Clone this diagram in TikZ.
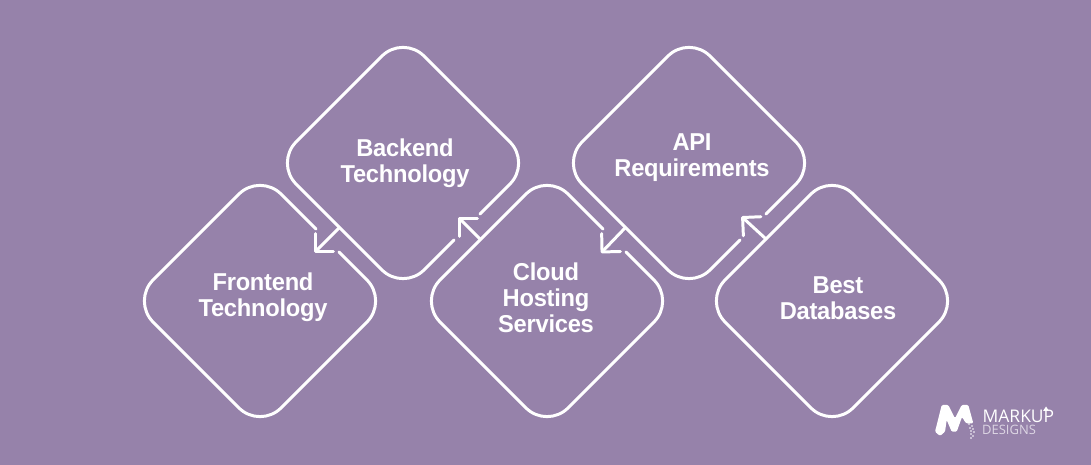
\documentclass[tikz,border=0pt]{standalone}
\usepackage{fontspec}
\setmainfont{Liberation Sans}
\newfontfamily\labelfont[FakeStretch=0.97,LetterSpace=-1]{Liberation Sans Bold}
\newfontfamily\logofont{Open Sans}
\usetikzlibrary{arrows.meta}
\definecolor{bgpurple}{HTML}{9682AA}
\definecolor{logograyish}{HTML}{DDD6E4}
\tikzset{
  outline/.style={draw=white,line width=3pt,rounded corners=30pt,line cap=round},
  flow/.style={draw=white,line width=3pt,line cap=round,-{Straight Barb[length=13pt,width=26pt,round]}},
  lbl/.style={text=white,align=center,font=\labelfont\fontsize{24.5}{26}\selectfont,inner sep=0pt},
}
\begin{document}
\begin{tikzpicture}[x=1bp,y=-1bp]
\useasboundingbox (0,0) rectangle (1091,465);
\fill[bgpurple] (0,0) rectangle (1091,465);

% outlines
\draw[outline] (339,252) -- (388,301) -- (260,429) -- (132,301) -- (260,173) -- (316,229);
\draw[outline] (454,240) -- (403,291) -- (275,163) -- (403,35) -- (531,163) -- (480,214);
\draw[outline] (626,252) -- (675,301) -- (547,429) -- (419,301) -- (547,173) -- (603,229);
\draw[outline] (740,240) -- (689,291) -- (561,163) -- (689,35) -- (817,163) -- (766,214);
\draw[outline] (832,173) -- (960,301) -- (832,429) -- (704,301) -- cycle;

% labels
\node[lbl] (backend) at (405,163) {Backend\\Technology};
\node[lbl] (frontend) at (263,297) {Frontend\\Technology};
\node[lbl] (cloud) at (546,298) {Cloud\\Hosting\\Services};
\node[lbl] (api) at (692,158) {API\\Requirements};
\node[lbl] (best) at (838,298) {Best\\Databases};

% connectors
\coordinate (a1) at (339,228); \coordinate (a1t) at (314,253);
\coordinate (a2) at (480,239); \coordinate (a2t) at (458,217);
\coordinate (a3) at (625,228); \coordinate (a3t) at (601,253);
\coordinate (a4) at (766,239); \coordinate (a4t) at (741.5,216.5);
\draw[flow] (a1) -- (a1t);
\draw[flow] (a2) -- (a2t);
\draw[flow] (a3) -- (a3t);
\draw[flow] (a4) -- (a4t);

% logo
\fill[white,rounded corners=1.2pt] (935,431.7) -- (941.7,405) -- (948.3,405) -- (955,418.3) -- (961.7,405) -- (968.3,405) -- (973.3,423.3) -- (966,423.3) -- (962,417) -- (956.7,431.7) -- (951.7,431.7) -- (946.7,420) -- (945,431.7) -- (940,436) -- cycle;
\foreach \p in {(969,424),(972,426),(970,428),(973,429),(971,431),(974,432),(971,434),(973,436),(971,438)}
  \fill[white] \p circle (0.9);
\node[anchor=base west,inner sep=0pt,text=white,font=\logofont\fontsize{17.5}{17.5}\selectfont] (mk) at (982.5,422.5) {MARKUP};
\fill[white] (1043,411) -- (1046,406.5) -- (1049,411) -- cycle;
\node[anchor=base west,inner sep=0pt,text=logograyish,font=\logofont\fontsize{13}{13}\selectfont] (ds) at (982,435) {DESIGNS};
\end{tikzpicture}
\end{document}
